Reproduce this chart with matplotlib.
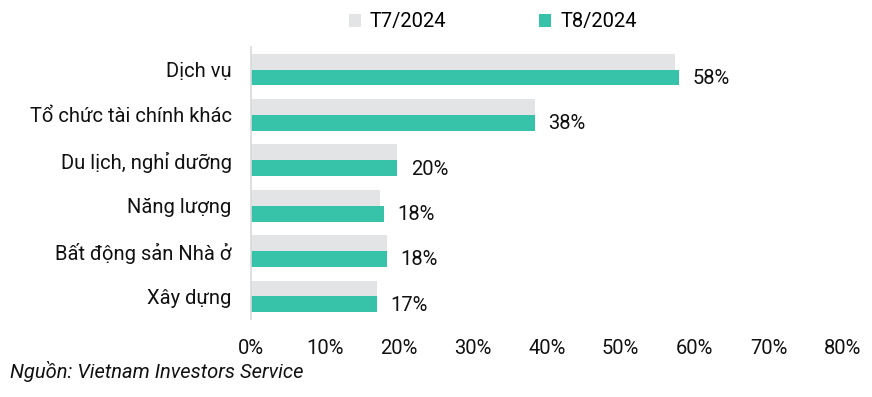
import matplotlib.pyplot as plt
import numpy as np

plt.rcParams['font.family'] = ['Roboto', 'DejaVu Sans']

# Data
categories = ['Dịch vụ', 'Tổ chức tài chính khác', 'Du lịch, nghỉ dưỡng',
              'Năng lượng', 'Bất động sản Nhà ở', 'Xây dựng']
t7_2024 = [57.4, 38.4, 19.8, 17.4, 18.4, 17.0]
t8_2024 = [57.9, 38.4, 19.8, 18.0, 18.4, 17.0]
labels_t8 = ['58%', '38%', '20%', '18%', '18%', '17%']
x_ticks = [0, 10, 20, 30, 40, 50, 60, 70, 80]

gray = '#E3E4E6'
green = '#36C3A9'
fs = 14.5

fig = plt.figure(figsize=(8.72, 3.97), dpi=100)
ax = fig.add_axes([0.288, 0.196, 0.678, 0.686])

y = np.arange(len(categories))
h = 0.35
ax.barh(y - h / 2, t7_2024, height=h, color=gray, label='T7/2024')
ax.barh(y + h / 2, t8_2024, height=h, color=green, label='T8/2024')

for yi, v, lab in zip(y, t8_2024, labels_t8):
    ax.text(v + 1.8, yi + h / 2 + 0.02, lab, va='center', ha='left', fontsize=fs, color='#111111')

ax.set_ylim(len(categories) - 0.5, -0.5)
ax.set_xlim(0, 80)
ax.set_yticks(y)
ax.set_yticklabels(categories, fontsize=fs, color='#111111')
ax.set_xticks(x_ticks)
ax.set_xticklabels([f'{t}%' for t in x_ticks], fontsize=fs, color='#111111')
ax.tick_params(axis='both', length=0)
ax.tick_params(axis='y', pad=14)
ax.tick_params(axis='x', pad=14)

for s in ['top', 'right', 'bottom']:
    ax.spines[s].set_visible(False)
ax.spines['left'].set_color('#D9D9D9')
ax.spines['left'].set_linewidth(1.2)

fig.legend(loc='center', bbox_to_anchor=(0.565, 0.945), ncol=2, frameon=False,
           fontsize=fs, handlelength=0.6, handleheight=0.6, handletextpad=0.45,
           columnspacing=4.6, borderpad=0.1)

fig.text(0.011, 0.048, 'Nguồn: Vietnam Investors Service', fontsize=fs,
         style='italic', color='#111111')

fig.savefig('out.png', dpi=100)
